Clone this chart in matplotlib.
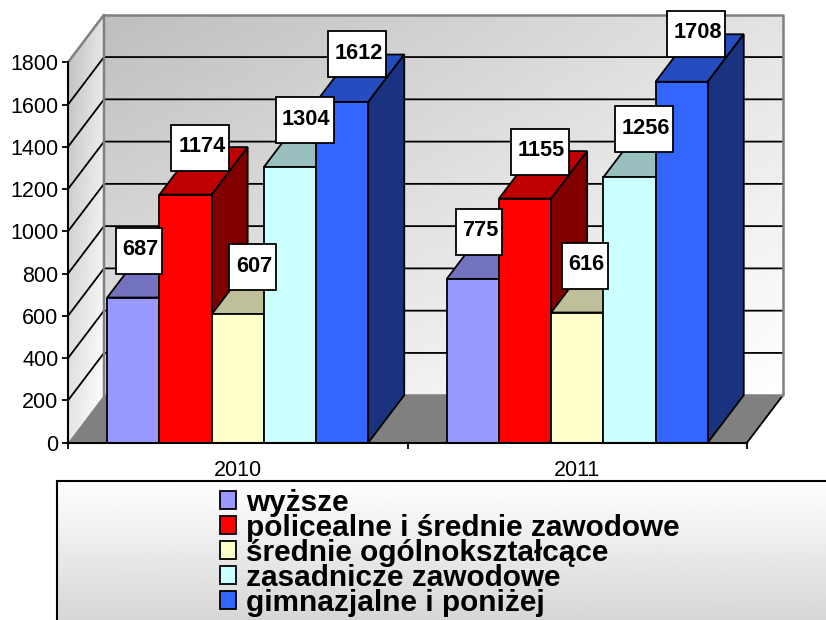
import numpy as np
import matplotlib
matplotlib.use("Agg")
import matplotlib.pyplot as plt
from matplotlib.patches import Polygon, Rectangle

# ---- data ----
years = ["2010", "2011"]
series_names = ["wyższe", "policealne i średnie zawodowe", "średnie ogólnokształcące",
                "zasadnicze zawodowe", "gimnazjalne i poniżej"]
v_wyzsze = [687, 775]
v_policealne = [1174, 1155]
v_srednie = [607, 616]
v_zasadnicze = [1304, 1256]
v_gimnazjalne = [1612, 1708]
y_ticks = [0, 200, 400, 600, 800, 1000, 1200, 1400, 1600, 1800]

series_values = [v_wyzsze, v_policealne, v_srednie, v_zasadnicze, v_gimnazjalne]
front_cols = ["#9999ff", "#ff0000", "#ffffcc", "#ccffff", "#3366ff"]
top_cols = ["#7373bf", "#bf0000", "#bfbf99", "#99bfbf", "#264dbf"]
side_cols = ["#4d4d80", "#800000", "#808066", "#668080", "#1a3380"]

# label box nudges in pixels, relative to the bar's top centre
label_dx = {687: 6.0, 775: 6.3, 616: 7.5}
label_dy = {1708: 48, 1256: 48, 1612: 48}

plt.rcParams["font.family"] = ["Liberation Sans", "DejaVu Sans"]
W, H = 826, 620
fig = plt.figure(figsize=(W / 100, H / 100), dpi=100, facecolor="white")

# legend panel
X0, X1, Y0, Y1 = 68.0, 747.0, 442.7, 62.3
lax = fig.add_axes([56.5 / W, 0, 1.0, (H - 481) / H])
lax.imshow(np.linspace(1.0, 0.84, 200).reshape(-1, 1), cmap="gray", vmin=0, vmax=1,
           aspect="auto", extent=[0, 1, 0, 1])
lax.set_xticks([]); lax.set_yticks([])
for s in ("right", "bottom"):
    lax.spines[s].set_visible(False)
for s in ("left", "top"):
    lax.spines[s].set_linewidth(1.5)

ax = fig.add_axes([X0 / W, (H - Y0) / H, (X1 - X0) / W, (Y0 - Y1) / H])
ax.patch.set_visible(False)
ax.set_xlim(0, len(years))
ax.set_ylim(y_ticks[0], y_ticks[-1])
px = len(years) / (X1 - X0)
py = y_ticks[-1] / (Y0 - Y1)
DX, DY = 36 * px, 47.5 * py
ymax = y_ticks[-1]
xmax = len(years)


def gradient_wall(corners, c00, c10, c01, c11, z):
    """fill a polygon with a bilinear grey gradient"""
    poly = Polygon(corners, closed=True, fc="none", ec="none", zorder=z, clip_on=False)
    ax.add_patch(poly)
    xs = [c[0] for c in corners]
    ys = [c[1] for c in corners]
    u, v = np.meshgrid(np.linspace(0, 1, 128), np.linspace(0, 1, 128))
    g = (c00 * (1 - u) * (1 - v) + c10 * u * (1 - v) + c01 * (1 - u) * v + c11 * u * v)
    im = ax.imshow(g, cmap="gray", vmin=0, vmax=1, aspect="auto", origin="upper",
                   extent=[min(xs), max(xs), min(ys), max(ys)], zorder=z)
    im.set_clip_box(fig.bbox)
    im.set_clip_path(poly)


# walls: back, side
back = [(DX, DY), (xmax + DX, DY), (xmax + DX, ymax + DY), (DX, ymax + DY)]
side = [(0, 0), (DX, DY), (DX, ymax + DY), (0, ymax)]
gradient_wall(back, 0.745, 0.89, 0.90, 1.0, 1)
gradient_wall(side, 0.74, 0.90, 0.90, 1.0, 1)
ax.set_xlim(0, xmax)
ax.set_ylim(0, ymax)

floor = [(0, 0), (xmax, 0), (xmax + DX, DY), (DX, DY)]
ax.add_patch(Polygon(floor, closed=True, fc="#808080", ec="none", zorder=2, clip_on=False))
ax.plot([xmax, xmax + DX], [0, DY], color="black", lw=1.3, zorder=3, clip_on=False)

# grid
for t in y_ticks[1:-1]:
    ax.plot([0, DX, xmax + DX], [t, t + DY, t + DY], color="black", lw=1.3,
            zorder=3, clip_on=False, solid_joinstyle="miter")
# wall outline
ax.plot([0, DX, DX], [ymax, ymax + DY, DY], color="#808080", lw=1.8, zorder=3, clip_on=False)
ax.plot([DX, xmax + DX, xmax + DX, DX], [ymax + DY, ymax + DY, DY, DY],
        color="#808080", lw=1.8, zorder=3, clip_on=False)

# bars
bar_w = 52.2 * px
n = len(series_values)
z = 5
labels = []
handles = []
for i, (vals, fc, tc, sc) in enumerate(zip(series_values, front_cols, top_cols, side_cols)):
    x = np.arange(len(years)) + 0.5 + (i - (n - 1) / 2) * bar_w
    for xc, val in zip(x, vals):
        l, r = xc - bar_w / 2, xc + bar_w / 2
        ax.add_patch(Polygon([(l, val), (r, val), (r + DX, val + DY), (l + DX, val + DY)],
                             closed=True, fc=tc, ec="black", lw=1.3, zorder=z, clip_on=False))
        ax.add_patch(Polygon([(r, 0), (r + DX, DY), (r + DX, val + DY), (r, val)],
                             closed=True, fc=sc, ec="black", lw=1.3, zorder=z, clip_on=False))
        labels.append((xc, val))
    bars = ax.bar(x, vals, width=bar_w, color=fc, edgecolor="black", linewidth=1.3,
                  zorder=z + 0.5, clip_on=False, label=series_names[i])
    handles.append(bars)
    z += 1

# value labels
for xc, val in labels:
    text = str(val)
    bw = (10.5 + 11.9 * len(text)) * px
    bh = 46 * py
    cx = xc + label_dx.get(val, 14.7) * px
    cy = val + label_dy.get(val, 47) * py
    ax.add_patch(Rectangle((cx - bw / 2, cy - bh / 2), bw, bh, fc="white", ec="black",
                           lw=1.3, zorder=20, clip_on=False))
    ax.text(cx + 1.5 * px, cy + 1 * py, text, ha="center", va="center", fontsize=15.7,
            fontweight="bold", zorder=21, clip_on=False)

# axes
for s in ("top", "right"):
    ax.spines[s].set_visible(False)
for s in ("left", "bottom"):
    ax.spines[s].set_linewidth(1.5)
    ax.spines[s].set_zorder(15)
ax.set_yticks(y_ticks)
ax.set_yticklabels([str(t) for t in y_ticks], fontsize=15.5)
ax.tick_params(axis="y", length=4.5, width=1.3, pad=2.5)
ax.set_xticks(range(len(years) + 1))
ax.set_xticklabels([""] * (len(years) + 1))
ax.tick_params(axis="x", which="major", length=4.5, width=1.3)
ax.set_xticks(np.arange(len(years)) + 0.5, minor=True)
ax.set_xticklabels(years, minor=True, fontsize=15.5)
ax.tick_params(axis="x", which="minor", length=0, pad=12.5)

# legend
leg = ax.legend(handles, series_names, loc="upper left",
                bbox_to_anchor=(146 / 679, -40 / 380.4), frameon=False, ncol=1,
                prop={"family": "Liberation Sans", "weight": "bold", "size": 21.4},
                labelspacing=-0.10, handlelength=0.55, handleheight=0.55, handletextpad=0.33,
                borderpad=0.2, borderaxespad=0)
leg.set_zorder(30)
for h in leg.legend_handles:
    h.set_linewidth(1.3)

fig.savefig("out.png", dpi=100, facecolor="white")
